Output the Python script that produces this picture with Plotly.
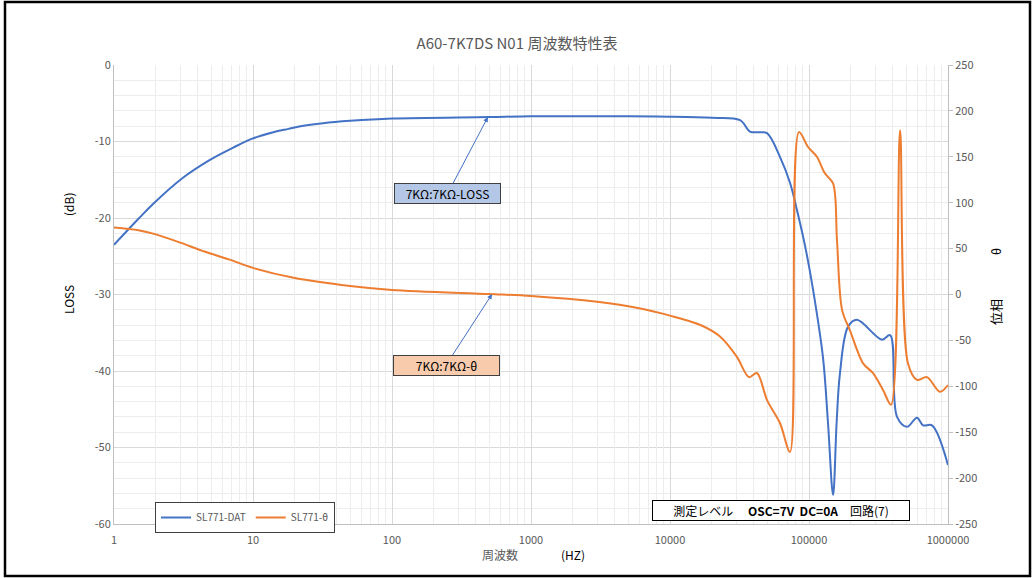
import plotly.graph_objects as go

# ---------------- data ----------------
freq_loss = [1, 1.5, 1.9, 3.1, 4.9, 7.2, 10, 14, 18, 22, 32, 50, 100, 500, 1000, 5000, 10000,
             20000, 31900, 37600, 44000, 49900, 61800, 73000, 82000, 95000,
             107000, 126000, 137000, 149000, 158000, 167000, 191000, 221000,
             335000, 383000, 430000, 507000, 598000, 661000, 767000, 1000000]
loss_db = [-23.5, -20.1, -18.2, -14.8, -12.4, -10.8, -9.6, -8.8, -8.35, -8.0, -7.6, -7.3, -7.0,
           -6.8, -6.7, -6.7, -6.75, -6.9, -7.2, -8.7, -8.8, -8.9, -12.0, -15.4,
           -19.0, -24.2, -29.4, -38.2, -46.8, -56.2, -46.8, -40.3, -34.2,
           -33.3, -35.9, -35.3, -46.0, -47.3, -46.1, -47.1, -47.1, -52.3]

freq_phase = [1, 1.5, 2, 3, 4.15, 6.8, 10, 20, 50, 100, 500, 1000, 3000, 6000, 10000,
              16400, 23000, 30300, 37000, 42200, 49900, 61800, 73000, 84700, 98400,
              114000, 130000, 149000, 159000, 173000, 197000, 245000, 288000,
              341000, 389000, 452000, 515000, 598000, 706000, 875000, 1000000]
phase_deg = [73, 70, 65.5, 56.5, 48.5, 38, 29, 18, 9.3, 5, 0.5, -1.6, -8, -15, -23,
             -33, -46, -68, -90, -85.5, -115, -140, -171.5, 177, 160.7,
             150, 132, 121, 59, -17, -39, -75, -85.5,
             -104, -120, 179, -75, -93, -90, -106, -98.6]

x_tick_vals = [1, 10, 100, 1000, 10000, 100000, 1000000]
x_tick_text = ["1", "10", "100", "1000", "10000", "100000", "1000000"]
minor_x = [m * d for d in [1, 10, 100, 1000, 10000, 100000] for m in range(2, 10)]

y_tick_vals = [0, -10, -20, -30, -40, -50, -60]
y_tick_text = ["0", "-10", "-20", "-30", "-40", "-50", "-60"]
y2_tick_vals = [250, 200, 150, 100, 50, 0, -50, -100, -150, -200, -250]
y2_tick_text = ["250", "200", "150", "100", "50", "0", "-50", "-100", "-150", "-200", "-250"]

names = ["SL771-DAT", "SL771-θ"]
colors = ["#4472C4", "#ED7D31"]

title_text = "A60-7K7DS N01 周波数特性表"
FONT = "Noto Sans CJK JP"
GREY = "#595959"

W, H = 1034, 578
L, R, T, B = 114, 948, 65, 524


def px(x):
    return (x - L) / (R - L)


def py(y):
    return (B - y) / (B - T)


fig = go.Figure()
fig.add_trace(go.Scatter(x=freq_loss, y=loss_db, name=names[0], mode="lines",
                         line=dict(color=colors[0], width=2, shape="spline", smoothing=1.0),
                         yaxis="y"))
fig.add_trace(go.Scatter(x=freq_phase, y=phase_deg, name=names[1], mode="lines",
                         line=dict(color=colors[1], width=2, shape="spline", smoothing=0.9),
                         yaxis="y2"))

axis_line = "#BFBFBF"
fig.update_layout(
    width=W, height=H,
    margin=dict(l=L, r=W - R, t=T, b=H - B),
    paper_bgcolor="white", plot_bgcolor="white",
    font=dict(family=FONT, size=11, color=GREY),
    title=dict(text=title_text, x=0.5, xanchor="center", y=1 - 44 / H, yanchor="middle",
               font=dict(family=FONT, size=15, color=GREY)),
    xaxis=dict(type="log", range=[0, 6], tickmode="array", tickvals=x_tick_vals,
               ticktext=x_tick_text, showgrid=True, gridcolor="#D9D9D9", gridwidth=1,
               showline=True, linecolor=axis_line, linewidth=1, zeroline=False,
               ticks="", ticklabelstandoff=6, tickfont=dict(size=11, color=GREY)),
    xaxis2=dict(type="log", range=[0, 6], overlaying="x", tickmode="array",
                tickvals=minor_x, showticklabels=False, showgrid=True,
                gridcolor="#EDEDED", gridwidth=1, showline=False, zeroline=False),
    yaxis=dict(range=[-60, 0], tickmode="array", tickvals=y_tick_vals, ticktext=y_tick_text,
               showgrid=True, gridcolor="#D9D9D9",
               showline=True, linecolor=axis_line, linewidth=1, zeroline=False,
               ticks="", tickfont=dict(size=11, color=GREY),
               minor=dict(dtick=2, showgrid=True, gridcolor="#EDEDED")),
    yaxis2=dict(range=[-250, 250], tickmode="array", tickvals=y2_tick_vals,
                ticktext=y2_tick_text, overlaying="y", side="right",
                showgrid=False, showline=True, linecolor=axis_line, linewidth=1,
                zeroline=False, ticks="outside", ticklen=4, tickcolor=axis_line,
                tickfont=dict(size=11, color=GREY)),
    legend=dict(orientation="h", x=px(155), y=py(502), xanchor="left", yanchor="top",
                bordercolor="#404040", borderwidth=1, bgcolor="white",
                font=dict(size=10, color=GREY), itemwidth=30, tracegroupgap=0),
    showlegend=True,
)

# dummy trace to activate xaxis2 minor grid
fig.add_trace(go.Scatter(x=[1], y=[None], xaxis="x2", showlegend=False, hoverinfo="skip"))


def lab(text, x, y, size=12, color="#000000", angle=0):
    return dict(text=text, x=px(x), y=py(y), xref="paper", yref="paper", showarrow=False,
                xanchor="center", yanchor="middle", textangle=angle,
                font=dict(size=size, color=color))


anns = [
    lab("LOSS", 68, 300, angle=-90),
    lab("(dB)", 68, 205, angle=-90),
    lab("位相", 995, 312, size=13, angle=-90),
    lab("θ", 995, 252, angle=-90),
    lab("周波数", 500, 554, color=GREY),
    lab("(HZ)", 573, 554),
    dict(text="測定レベル　 <b>OSC=7V  DC=0A</b>　回路(7)", x=px(781), y=py(510.5),
         xref="paper", yref="paper", xanchor="center", yanchor="middle", showarrow=False,
         bgcolor="white", bordercolor="#000000", borderwidth=1, borderpad=1,
         font=dict(size=12, color="#000000"), width=254),
    dict(text="7KΩ:7KΩ-LOSS", x=2.69, y=-6.8, xref="x", yref="y", showarrow=True,
         ax=-40, ay=76, arrowhead=2, arrowsize=1, arrowwidth=1, arrowcolor="#4472C4",
         bgcolor="#B4C7E7", bordercolor="#404040", borderwidth=1, borderpad=1,
         font=dict(size=12, color="#000000"), width=103),
    dict(text="7KΩ:7KΩ-θ", x=2.72, y=0.5, xref="x", yref="y2", showarrow=True,
         ax=-46, ay=71, arrowhead=2, arrowsize=1, arrowwidth=1, arrowcolor="#4472C4",
         bgcolor="#F8CBAD", bordercolor="#404040", borderwidth=1, borderpad=1,
         font=dict(size=12, color="#000000"), width=103),
]
fig.update_layout(annotations=anns)

# outer chart border
fig.add_shape(type="rect", xref="paper", yref="paper",
              x0=px(5), x1=px(1030), y0=py(576), y1=py(2),
              line=dict(color="#000000", width=2.5), fillcolor="rgba(0,0,0,0)", layer="above")

fig.write_html("out.html", config={"displayModeBar": False},
               post_script="document.body.style.margin='0';document.body.style.overflow='hidden';")
